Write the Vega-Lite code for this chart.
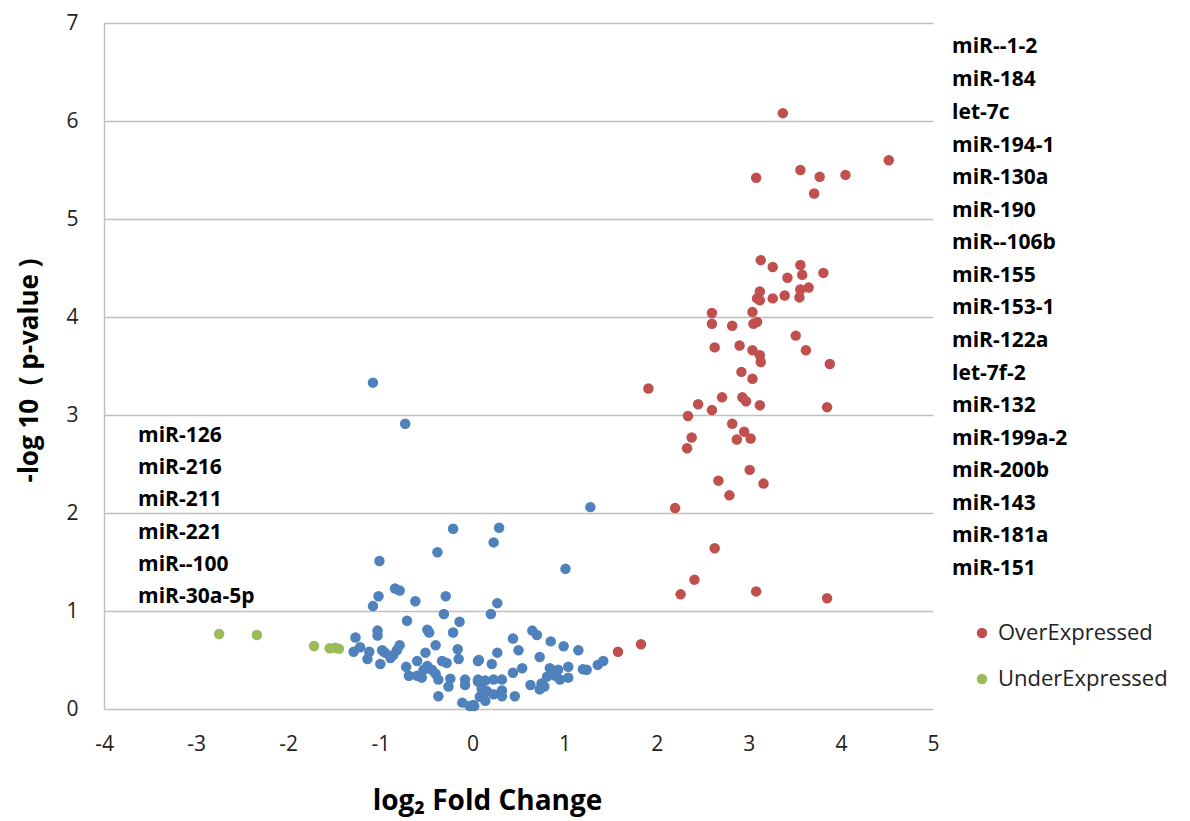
{
  "$schema": "https://vega.github.io/schema/vega-lite/v6.json",
  "autosize": {"type": "none"},
  "width": 829,
  "height": 686,
  "padding": {"left": 104, "top": 23, "right": 257, "bottom": 112},
  "background": "white",
  "config": {"font": "Open Sans", "view": {"stroke": null}},
  "layer": [
    {
      "data": {"values": [
        {"x":-1.08,"y":3.33,"g":"Other"},{"x":-0.73,"y":2.91,"g":"Other"},{"x":1.28,"y":2.06,"g":"Other"},{"x":-0.21,"y":1.84,"g":"Other"},{"x":0.29,"y":1.85,"g":"Other"},{"x":0.23,"y":1.70,"g":"Other"},{"x":-0.38,"y":1.60,"g":"Other"},{"x":-1.01,"y":1.51,"g":"Other"},{"x":1.01,"y":1.43,"g":"Other"},
        {"x":-0.84,"y":1.23,"g":"Other"},{"x":-0.79,"y":1.21,"g":"Other"},{"x":-1.02,"y":1.15,"g":"Other"},{"x":-1.08,"y":1.05,"g":"Other"},{"x":-0.62,"y":1.10,"g":"Other"},{"x":-0.29,"y":1.15,"g":"Other"},{"x":-0.31,"y":0.97,"g":"Other"},{"x":-0.14,"y":0.89,"g":"Other"},{"x":-0.71,"y":0.90,"g":"Other"},{"x":-0.49,"y":0.81,"g":"Other"},{"x":-0.47,"y":0.78,"g":"Other"},{"x":-1.03,"y":0.80,"g":"Other"},{"x":-1.03,"y":0.75,"g":"Other"},{"x":-0.21,"y":0.78,"g":"Other"},{"x":-1.27,"y":0.73,"g":"Other"},{"x":-0.40,"y":0.65,"g":"Other"},{"x":-0.16,"y":0.61,"g":"Other"},{"x":-0.79,"y":0.65,"g":"Other"},{"x":-0.82,"y":0.60,"g":"Other"},{"x":-1.22,"y":0.63,"g":"Other"},{"x":-1.29,"y":0.585,"g":"Other"},{"x":-1.12,"y":0.585,"g":"Other"},{"x":-0.98,"y":0.60,"g":"Other"},{"x":-0.95,"y":0.575,"g":"Other"},{"x":-1.14,"y":0.51,"g":"Other"},{"x":-0.89,"y":0.52,"g":"Other"},{"x":-0.86,"y":0.55,"g":"Other"},{"x":-1.00,"y":0.46,"g":"Other"},{"x":-0.51,"y":0.575,"g":"Other"},{"x":-0.60,"y":0.49,"g":"Other"},{"x":-0.72,"y":0.43,"g":"Other"},{"x":-0.33,"y":0.49,"g":"Other"},{"x":-0.28,"y":0.47,"g":"Other"},{"x":-0.15,"y":0.51,"g":"Other"},{"x":0.06,"y":0.49,"g":"Other"},{"x":-0.49,"y":0.44,"g":"Other"},{"x":-0.44,"y":0.40,"g":"Other"},{"x":-0.53,"y":0.40,"g":"Other"},{"x":-0.69,"y":0.34,"g":"Other"},{"x":-0.60,"y":0.34,"g":"Other"},{"x":-0.55,"y":0.32,"g":"Other"},{"x":-0.40,"y":0.36,"g":"Other"},{"x":-0.37,"y":0.30,"g":"Other"},{"x":-0.24,"y":0.31,"g":"Other"},{"x":-0.26,"y":0.23,"g":"Other"},{"x":-0.08,"y":0.30,"g":"Other"},{"x":-0.08,"y":0.245,"g":"Other"},{"x":0.06,"y":0.28,"g":"Other"},{"x":-0.37,"y":0.13,"g":"Other"},{"x":-0.11,"y":0.065,"g":"Other"},{"x":-0.03,"y":0.03,"g":"Other"},{"x":0.02,"y":0.03,"g":"Other"},
        {"x":0.27,"y":1.08,"g":"Other"},{"x":0.20,"y":0.97,"g":"Other"},{"x":0.65,"y":0.80,"g":"Other"},{"x":0.70,"y":0.755,"g":"Other"},{"x":0.44,"y":0.72,"g":"Other"},{"x":0.85,"y":0.69,"g":"Other"},{"x":0.99,"y":0.64,"g":"Other"},{"x":1.15,"y":0.60,"g":"Other"},{"x":0.50,"y":0.60,"g":"Other"},{"x":0.27,"y":0.575,"g":"Other"},{"x":0.73,"y":0.53,"g":"Other"},{"x":0.07,"y":0.50,"g":"Other"},{"x":0.21,"y":0.46,"g":"Other"},{"x":1.42,"y":0.49,"g":"Other"},{"x":1.36,"y":0.45,"g":"Other"},{"x":1.20,"y":0.405,"g":"Other"},{"x":1.24,"y":0.40,"g":"Other"},{"x":0.54,"y":0.415,"g":"Other"},{"x":0.44,"y":0.37,"g":"Other"},{"x":0.84,"y":0.415,"g":"Other"},{"x":0.93,"y":0.40,"g":"Other"},{"x":1.04,"y":0.43,"g":"Other"},{"x":0.81,"y":0.33,"g":"Other"},{"x":0.90,"y":0.34,"g":"Other"},{"x":1.04,"y":0.32,"g":"Other"},{"x":0.95,"y":0.30,"g":"Other"},{"x":0.06,"y":0.30,"g":"Other"},{"x":0.14,"y":0.29,"g":"Other"},{"x":0.23,"y":0.30,"g":"Other"},{"x":0.32,"y":0.30,"g":"Other"},{"x":0.75,"y":0.26,"g":"Other"},{"x":0.78,"y":0.23,"g":"Other"},{"x":0.73,"y":0.20,"g":"Other"},{"x":0.63,"y":0.245,"g":"Other"},{"x":0.10,"y":0.21,"g":"Other"},{"x":0.16,"y":0.18,"g":"Other"},{"x":0.23,"y":0.15,"g":"Other"},{"x":0.32,"y":0.19,"g":"Other"},{"x":0.32,"y":0.13,"g":"Other"},{"x":0.46,"y":0.13,"g":"Other"},{"x":0.08,"y":0.125,"g":"Other"},{"x":0.14,"y":0.085,"g":"Other"},{"x":0.01,"y":0.04,"g":"Other"},
        {"x":3.37,"y":6.08,"g":"OverExpressed"},{"x":4.52,"y":5.60,"g":"OverExpressed"},{"x":3.08,"y":5.42,"g":"OverExpressed"},{"x":3.56,"y":5.50,"g":"OverExpressed"},{"x":3.77,"y":5.43,"g":"OverExpressed"},{"x":4.05,"y":5.45,"g":"OverExpressed"},{"x":3.71,"y":5.26,"g":"OverExpressed"},{"x":3.13,"y":4.58,"g":"OverExpressed"},{"x":3.26,"y":4.51,"g":"OverExpressed"},{"x":3.56,"y":4.53,"g":"OverExpressed"},{"x":3.58,"y":4.43,"g":"OverExpressed"},{"x":3.81,"y":4.45,"g":"OverExpressed"},{"x":3.42,"y":4.40,"g":"OverExpressed"},{"x":3.12,"y":4.26,"g":"OverExpressed"},{"x":3.09,"y":4.19,"g":"OverExpressed"},{"x":3.12,"y":4.17,"g":"OverExpressed"},{"x":3.26,"y":4.19,"g":"OverExpressed"},{"x":3.39,"y":4.22,"g":"OverExpressed"},{"x":3.55,"y":4.20,"g":"OverExpressed"},{"x":3.56,"y":4.28,"g":"OverExpressed"},{"x":3.65,"y":4.30,"g":"OverExpressed"},{"x":2.60,"y":4.04,"g":"OverExpressed"},{"x":2.60,"y":3.93,"g":"OverExpressed"},{"x":2.82,"y":3.91,"g":"OverExpressed"},{"x":3.04,"y":4.05,"g":"OverExpressed"},{"x":3.09,"y":3.95,"g":"OverExpressed"},{"x":3.05,"y":3.93,"g":"OverExpressed"},{"x":3.51,"y":3.81,"g":"OverExpressed"},{"x":2.63,"y":3.69,"g":"OverExpressed"},{"x":2.90,"y":3.71,"g":"OverExpressed"},{"x":3.04,"y":3.66,"g":"OverExpressed"},{"x":3.12,"y":3.61,"g":"OverExpressed"},{"x":3.13,"y":3.54,"g":"OverExpressed"},{"x":3.62,"y":3.66,"g":"OverExpressed"},{"x":3.88,"y":3.52,"g":"OverExpressed"},{"x":2.92,"y":3.44,"g":"OverExpressed"},{"x":3.04,"y":3.37,"g":"OverExpressed"},{"x":1.91,"y":3.27,"g":"OverExpressed"},{"x":2.45,"y":3.11,"g":"OverExpressed"},{"x":2.71,"y":3.18,"g":"OverExpressed"},{"x":2.60,"y":3.05,"g":"OverExpressed"},{"x":2.93,"y":3.18,"g":"OverExpressed"},{"x":2.97,"y":3.14,"g":"OverExpressed"},{"x":3.12,"y":3.10,"g":"OverExpressed"},{"x":3.85,"y":3.08,"g":"OverExpressed"},{"x":2.34,"y":2.99,"g":"OverExpressed"},{"x":2.82,"y":2.91,"g":"OverExpressed"},{"x":2.95,"y":2.83,"g":"OverExpressed"},{"x":2.87,"y":2.75,"g":"OverExpressed"},{"x":3.02,"y":2.76,"g":"OverExpressed"},{"x":2.38,"y":2.77,"g":"OverExpressed"},{"x":2.33,"y":2.66,"g":"OverExpressed"},{"x":3.01,"y":2.44,"g":"OverExpressed"},{"x":2.67,"y":2.33,"g":"OverExpressed"},{"x":3.16,"y":2.30,"g":"OverExpressed"},{"x":2.79,"y":2.18,"g":"OverExpressed"},{"x":2.20,"y":2.05,"g":"OverExpressed"},{"x":2.63,"y":1.64,"g":"OverExpressed"},{"x":2.41,"y":1.32,"g":"OverExpressed"},{"x":2.26,"y":1.17,"g":"OverExpressed"},{"x":3.08,"y":1.20,"g":"OverExpressed"},{"x":3.85,"y":1.13,"g":"OverExpressed"},{"x":1.58,"y":0.585,"g":"OverExpressed"},{"x":1.83,"y":0.66,"g":"OverExpressed"},
        {"x":-2.75,"y":0.765,"g":"UnderExpressed"},{"x":-2.34,"y":0.755,"g":"UnderExpressed"},{"x":-1.72,"y":0.643,"g":"UnderExpressed"},{"x":-1.55,"y":0.62,"g":"UnderExpressed"},{"x":-1.49,"y":0.625,"g":"UnderExpressed"},{"x":-1.45,"y":0.615,"g":"UnderExpressed"}
      ]},
      "mark": {"type": "circle", "opacity": 1},
      "encoding": {
        "x": {"field": "x", "type": "quantitative",
          "scale": {"domain": [-4, 5], "nice": false, "zero": false},
          "axis": {"values": [-4,-3,-2,-1,0,1,2,3,4,5], "labelExpr": "'' + datum.value", "grid": false, "domain": false, "ticks": false, "tickSize": 0,
            "labelFontSize": 21, "labelColor": "#222222", "labelPadding": 24, "labelFlush": false,
            "title": "log₂ Fold Change", "titleFontSize": 28, "titleFontWeight": "bold", "titleColor": "#000000",
            "titleX": 383, "titleY": 100, "titleBaseline": "alphabetic", "titleAlign": "center"}},
        "y": {"field": "y", "type": "quantitative",
          "scale": {"domain": [0, 7], "nice": false},
          "axis": {"values": [0,1,2,3,4,5,6,7], "labelExpr": "'' + datum.value", "grid": true, "gridColor": "#bfbfbf", "gridWidth": 1.5,
            "domain": true, "domainColor": "#bfbfbf", "domainWidth": 1.5, "ticks": false, "tickSize": 0,
            "labelFontSize": 21, "labelColor": "#222222", "labelPadding": 26, "labelFlush": false,
            "title": "-log 10\u00a0\u00a0( p-value )", "titleFontSize": 26, "titleFontWeight": "bold", "titleColor": "#000000",
            "titleX": -75, "titleY": 347, "titleBaseline": "middle", "titleAngle": -90, "titleAlign": "center"}},
        "color": {"field": "g", "type": "nominal",
          "scale": {"domain": ["OverExpressed", "UnderExpressed", "Other"], "range": ["#c0504d", "#9bbb59", "#4f81bd"]},
          "legend": {"values": ["OverExpressed", "UnderExpressed"], "title": null, "orient": "none",
            "legendX": 867, "legendY": 599, "padding": 0, "symbolType": "circle", "symbolSize": 70,
            "labelFontSize": 22, "labelColor": "#222222", "labelOffset": 5, "rowPadding": 24, "labelLimit": 400}},
        "size": {"field": "g", "type": "nominal",
          "scale": {"domain": ["OverExpressed", "UnderExpressed", "Other"], "range": [110, 110, 70]},
          "legend": null}
      }
    },
    {
      "data": {"values": [
        {"label":"miR--1-2","x":5.207,"y":6.755},{"label":"miR-184","x":5.207,"y":6.418},{"label":"let-7c","x":5.207,"y":6.082},{"label":"miR-194-1","x":5.207,"y":5.745},{"label":"miR-130a","x":5.207,"y":5.418},{"label":"miR-190","x":5.207,"y":5.082},{"label":"miR--106b","x":5.207,"y":4.755},{"label":"miR-155","x":5.207,"y":4.418},{"label":"miR-153-1","x":5.207,"y":4.092},{"label":"miR-122a","x":5.207,"y":3.755},{"label":"let-7f-2","x":5.207,"y":3.418},{"label":"miR-132","x":5.207,"y":3.092},{"label":"miR-199a-2","x":5.207,"y":2.755},{"label":"miR-200b","x":5.207,"y":2.429},{"label":"miR-143","x":5.207,"y":2.092},{"label":"miR-181a","x":5.207,"y":1.765},{"label":"miR-151","x":5.207,"y":1.429},
        {"label":"miR-126","x":-3.63,"y":2.789},{"label":"miR-216","x":-3.63,"y":2.459},{"label":"miR-211","x":-3.63,"y":2.133},{"label":"miR-221","x":-3.63,"y":1.799},{"label":"miR--100","x":-3.63,"y":1.469},{"label":"miR-30a-5p","x":-3.63,"y":1.143}
      ]},
      "mark": {"type": "text", "align": "left", "baseline": "middle", "fontSize": 21, "fontWeight": "bold", "color": "#000000"},
      "encoding": {
        "x": {"field": "x", "type": "quantitative"},
        "y": {"field": "y", "type": "quantitative"},
        "text": {"field": "label", "type": "nominal"}
      }
    }
  ]
}
